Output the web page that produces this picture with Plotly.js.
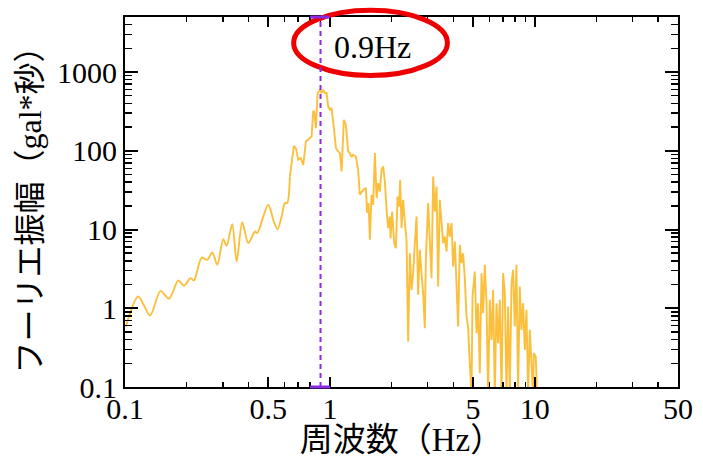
<!DOCTYPE html>
<html><head><meta charset="utf-8">
<script src="https://cdn.plot.ly/plotly-3.0.1.min.js"></script>
<style>html,body{margin:0;padding:0;background:#fff}</style>
</head><body>
<div id="chart" style="width:703px;height:458px"></div>
<script>
// Frequency (Hz) and Fourier amplitude (gal*s)
const freqHz = [
  0.101,0.116,0.1325,0.149,0.164,0.182,0.194,0.209,0.217,0.2366,0.252,0.2667,0.282,0.3017,0.3133,0.3338,0.3507,0.3734,0.3995,0.4306,0.4418,0.5,0.533,0.5557,0.5813,0.6033,0.619,
  0.638,0.6675,0.6826,0.7006,0.7198,0.7413,0.7638,0.7837,0.814,0.829,0.8386,0.8545,0.871,0.894,0.911,0.9275,0.9454,0.9636,0.981,1.0,1.019,1.046,1.07,1.098,1.119,1.14,1.153,1.17,1.197,1.228,1.252,1.276,1.299,1.339,1.374,1.4,1.453,1.498,1.52,1.544,1.567,1.597,1.626,1.658,1.69,1.72,1.754,1.787,1.82,1.855,1.891,1.924,1.962,1.977,2.013,2.059,2.099,2.139,2.178,2.203,2.238,2.278,2.322,2.366,2.41,2.456,2.503,2.548,2.597,2.648,2.695,2.748,2.8,2.851,2.906,2.939,3.016,3.074,3.133,3.192,3.253,3.315,3.375,3.439,3.506,3.57,3.639,3.709,3.776,3.849,3.923,3.995,4.072,4.15,4.226,4.306,4.39,4.469,4.555,4.643,4.726,4.78,4.91,4.967,5.096,5.195,5.29,5.392,5.495,5.595,5.703,5.813,5.918,6.032,6.149,6.26,6.381,6.504,6.622,6.75,6.881,7.006,7.141,7.278,7.41,7.551,7.698,7.837,7.987,8.14,8.288,8.448,8.611,8.767,8.937,9.11,9.275,9.454,9.636,9.81,9.887,10.11,10.26
];
const amplitude = [
  0.586,1.41,0.81,1.66,1.32,2.25,1.93,2.41,2.25,4.41,4.12,5.1,3.56,7.55,6.21,11.7,3.92,12.4,6.72,9.43,9.0,20.6,12.6,10.1,14.6,21.7,21.7,
  47.2,115.8,108.2,76.9,80.8,66.4,131.3,138,152,316,316,194,541,596,541,596,541,541,365.6,332,349,194,108,98,93.5,54.6,113.4,247.7,214,98,93.5,83.2,89,84.6,57.4,27.6,31.9,33.6,16.2,21.7,7.4,27.6,20.6,93.5,25.1,38.9,30.4,57.4,63.2,40.7,17.8,10.4,14.6,7.78,16.9,6.72,5.8,26.3,19.6,42.8,10.4,23.8,12.1,7.4,0.378,5.0,1.71,2.79,6.72,14.6,1.48,5.52,2.79,1.56,0.559,4.12,21.7,8.15,2.41,47.2,16.9,35.2,1.89,23.8,11.5,6.72,8.15,5.25,12.1,8.15,12.1,3.39,7.04,2.41,0.586,6.4,3.74,5.0,2.41,0.785,0.586,0.296,0.08,1.41,2.93,0.483,1.16,0.15,2.79,0.867,3.56,1.16,0.08,1.28,0.397,1.71,0.08,1.16,0.36,1.28,0.08,2.79,1.56,0.08,1.05,0.08,2.08,3.08,0.586,3.56,0.08,1.89,0.532,1.16,0.296,0.955,0.08,0.532,0.221,0.08,0.269,0.243,0.08
];
const smoothCount = 27;          // first points form the smooth low-frequency part
const peakFreq = 0.9;
const peakLabel = '0.9Hz';
const bandFreq = [0.8, 1.0];
const xRange = [0.1, 50];
const yRange = [0.1, 5000];
const xTickVals = [0.1, 0.5, 1, 5, 10, 50];
const xTickText = ['0.1', '0.5', '1', '5', '10', '50'];
const xMinorVals = [0.2,0.3,0.4,0.6,0.7,0.8,0.9,2,3,4,6,7,8,9,20,30,40];
const yTickVals = [0.1, 1, 10, 100, 1000];
const yTickText = ['0.1', '1', '10', '100', '1000'];
const yMinorVals = [0.2,0.3,0.4,0.5,0.6,0.7,0.8,0.9,2,3,4,5,6,7,8,9,20,30,40,50,60,70,80,90,200,300,400,500,600,700,800,900,2000,3000,4000,5000];
const xTitle = '周波数（Hz）';
const yTitle = 'フーリエ振幅（gal*秒）';

const lineColor = '#fcbf3c';
const serif = '"Liberation Serif", "Noto Sans CJK JP", serif';

const traces = [
  {x: freqHz.slice(0, smoothCount + 1), y: amplitude.slice(0, smoothCount + 1), type: 'scatter', mode: 'lines',
   line: {color: lineColor, width: 1.9, shape: 'spline', smoothing: 0.8}, hoverinfo: 'skip'},
  {x: freqHz.slice(smoothCount), y: amplitude.slice(smoothCount), type: 'scatter', mode: 'lines',
   line: {color: lineColor, width: 1.9}, hoverinfo: 'skip'}
];

const axisCommon = {
  type: 'log', showgrid: false, zeroline: false,
  showline: true, linewidth: 2, linecolor: '#000', mirror: 'ticks',
  ticks: 'inside', tickwidth: 2, tickcolor: '#000',
  tickfont: {family: serif, size: 30, color: '#000'}
};

const layout = {
  width: 703, height: 458,
  margin: {l: 125, r: 25, t: 17, b: 71, pad: 0},
  paper_bgcolor: '#fff', plot_bgcolor: '#fff',
  showlegend: false,
  font: {family: serif, color: '#000'},
  xaxis: Object.assign({}, axisCommon, {
    range: [Math.log10(xRange[0]), Math.log10(xRange[1])],
    tickmode: 'array', tickvals: xTickVals, ticktext: xTickText, ticklen: 10,
    ticklabelstandoff: -6,
    minor: {tickmode: 'array', tickvals: xMinorVals, ticks: 'inside', ticklen: 5, tickwidth: 1.5, tickcolor: '#000', showgrid: false},
    title: {text: xTitle, font: {family: serif, size: 33, color: '#000'}, standoff: 6}
  }),
  yaxis: Object.assign({}, axisCommon, {
    range: [Math.log10(yRange[0]), Math.log10(yRange[1])],
    tickmode: 'array', tickvals: yTickVals, ticktext: yTickText, ticklen: 13,
    minor: {tickmode: 'array', tickvals: yMinorVals, ticks: 'inside', ticklen: 7, tickwidth: 1.5, tickcolor: '#000', showgrid: false},
    title: {text: yTitle, font: {family: serif, size: 32, color: '#000'}, standoff: 6}
  }),
  shapes: [
    {type: 'circle', xref: 'paper', yref: 'paper', x0: 0.305, x1: 0.583, y0: 0.842, y1: 1.018,
     line: {color: '#ee0000', width: 5}, fillcolor: 'rgba(0,0,0,0)', layer: 'above'},
    {type: 'line', xref: 'x', yref: 'paper', x0: peakFreq, x1: peakFreq, y0: 0, y1: 1,
     line: {color: '#8a2be2', width: 2, dash: '5px,4px'}, layer: 'above'},
    {type: 'line', xref: 'x', yref: 'paper', x0: bandFreq[0], x1: bandFreq[1], y0: 0, y1: 0,
     line: {color: '#8a2be2', width: 3}, layer: 'above'},
    {type: 'line', xref: 'x', yref: 'paper', x0: bandFreq[0], x1: bandFreq[1], y0: 1, y1: 1,
     line: {color: '#8a2be2', width: 3}, layer: 'above'}
  ],
  annotations: [
    {xref: 'paper', yref: 'paper', x: 0.4476, y: 0.918, text: peakLabel, showarrow: false,
     font: {family: serif, size: 32, color: '#000'}, xanchor: 'center', yanchor: 'middle'}
  ]
};

Plotly.newPlot('chart', traces, layout, {staticPlot: true, displayModeBar: false});
</script>
</body></html>
